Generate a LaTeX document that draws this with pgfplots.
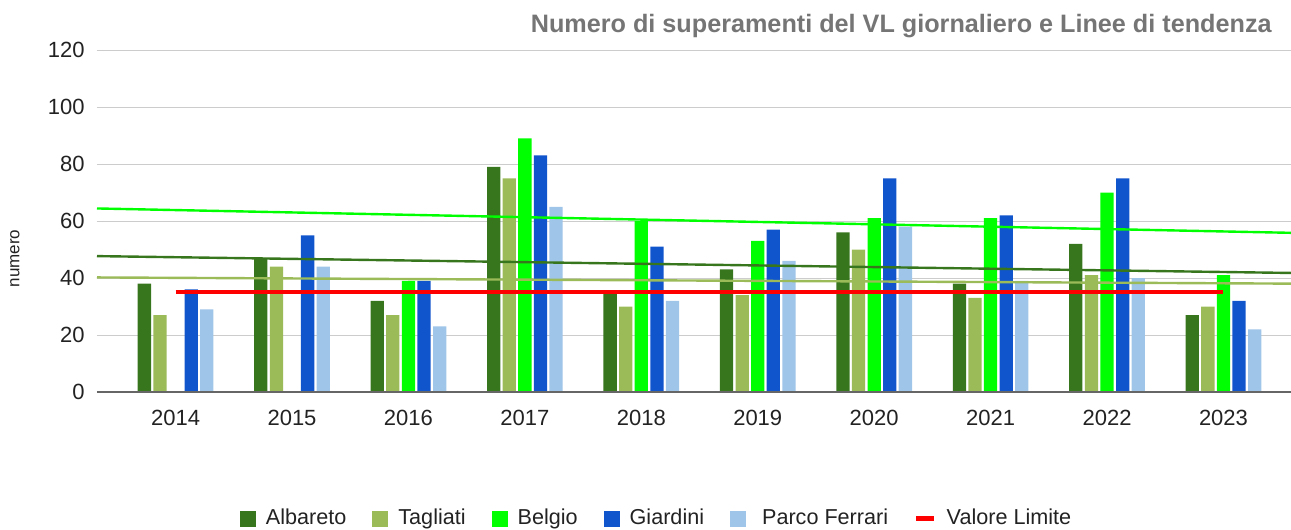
\documentclass[border=0pt]{standalone}
\usepackage{fontspec}
\setmainfont{Liberation Sans}
\usepackage{pgfplots}
\pgfplotsset{compat=1.18}
\definecolor{cAlb}{HTML}{38761D}
\definecolor{cTag}{HTML}{9BBB59}
\definecolor{cBel}{HTML}{00FF00}
\definecolor{cGia}{HTML}{1155CC}
\definecolor{cPar}{HTML}{9FC5E8}
\definecolor{cGrid}{HTML}{CCCCCC}
\definecolor{cTitle}{HTML}{757575}
\definecolor{cText}{HTML}{222222}
\begin{document}
\begin{tikzpicture}
\useasboundingbox (-48.5pt,-69pt) rectangle (597pt,196pt);
\begin{axis}[
  at={(0,0)}, anchor=south west,
  scale only axis, width=597pt, height=171pt,
  xmin=-0.675, xmax=9.58, ymin=0, ymax=120,
  ytick={0,20,40,60,80,100,120},
  xtick={0,1,2,3,4,5,6,7,8,9},
  xticklabels={2014,2015,2016,2017,2018,2019,2020,2021,2022,2023},
  /pgf/number format/assume math mode=true,
  axis line style={draw=none},
  tick style={draw=none},
  ymajorgrids, major grid style={cGrid, line width=0.5pt},
  tick label style={font=\fontsize{11}{13}\selectfont, text=cText, inner sep=0pt},
  yticklabel style={xshift=-6pt},
  xticklabel style={yshift=-9pt},
  clip=false,
  legend columns=6,
  legend style={at={(0.4695,-0.37)}, anchor=center, draw=none, fill=none,
    font=\fontsize{10.8}{13}\selectfont, text=cText,
    /tikz/every odd column/.append style={column sep=3pt},
    /tikz/every even column/.append style={column sep=11pt}},
  legend cell align=left,
]
\pgfplotsset{
  barleg/.style={legend image code/.code={\fill[##1] (0pt,-4pt) rectangle (8pt,4pt);}},
}
\addplot[ybar, bar width=0.114, bar shift=-0.268, fill=cAlb, draw=none, barleg] coordinates {
 (0,38) (1,47) (2,32) (3,79) (4,35) (5,43) (6,56) (7,38) (8,52) (9,27)};
\addlegendentry{Albareto}
\addplot[ybar, bar width=0.114, bar shift=-0.134, fill=cTag, draw=none, barleg] coordinates {
 (0,27) (1,44) (2,27) (3,75) (4,30) (5,34) (6,50) (7,33) (8,41) (9,30)};
\addlegendentry{Tagliati}
\addplot[ybar, bar width=0.114, bar shift=0, fill=cBel, draw=none, barleg] coordinates {
 (2,39) (3,89) (4,60) (5,53) (6,61) (7,61) (8,70) (9,41)};
\addlegendentry{Belgio}
\addplot[ybar, bar width=0.114, bar shift=0.134, fill=cGia, draw=none, barleg] coordinates {
 (0,36) (1,55) (2,39) (3,83) (4,51) (5,57) (6,75) (7,62) (8,75) (9,32)};
\addlegendentry{Giardini}
\addplot[ybar, bar width=0.114, bar shift=0.268, fill=cPar, draw=none, barleg] coordinates {
 (0,29) (1,44) (2,23) (3,65) (4,32) (5,46) (6,58) (7,39) (8,40) (9,22)};
\addlegendentry{\ Parco Ferrari}
% trend lines
\addplot[cBel, line width=1.2pt, forget plot] coordinates {(-0.675,64.40) (9.58,55.85)};
\addplot[cAlb, line width=1.2pt, forget plot] coordinates {(-0.675,47.68) (9.58,41.77)};
\addplot[cTag, line width=1.2pt, forget plot] coordinates {(-0.675,40.20) (9.58,38.02)};
% limit
\addplot[red, line width=2pt,
  legend image code/.code={\draw[red, line width=2.3pt] (0pt,0pt) -- (9pt,0pt);}]
  coordinates {(0,35) (9,35)};
\addlegendentry{Valore Limite}
\draw[black!60, line width=0.7pt] (rel axis cs:0,0) -- (rel axis cs:1,0);
\end{axis}
\node[anchor=east, inner sep=0pt, font=\fontsize{12.6}{15}\selectfont\bfseries, text=cTitle] at (587.5pt,183pt)
  {Numero di superamenti del VL giornaliero e Linee di tendenza};
\node[rotate=90, font=\fontsize{8.5}{10}\selectfont, text=cText] at (-41pt,66.75pt) {numero};
\end{tikzpicture}
\end{document}
